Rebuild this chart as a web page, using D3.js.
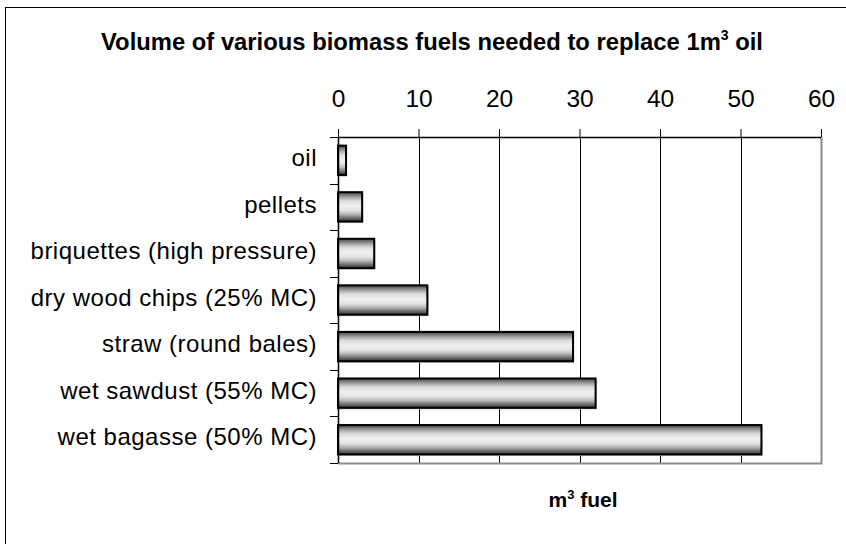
<!DOCTYPE html>
<html>
<head>
<meta charset="utf-8">
<script src="https://cdn.jsdelivr.net/npm/d3@7"></script>
<style>
  html, body { margin: 0; padding: 0; background: #fff; }
  svg { display: block; }
  text { font-family: "Liberation Sans", Arial, sans-serif; }
</style>
</head>
<body>
<svg id="chart" width="846" height="544"></svg>
<script>
const categories = [
  "oil",
  "pellets",
  "briquettes (high pressure)",
  "dry wood chips (25% MC)",
  "straw (round bales)",
  "wet sawdust (55% MC)",
  "wet bagasse (50% MC)"
];
const values = [1.0, 3.0, 4.5, 11.1, 29.2, 32.0, 52.6];
const xTicks = [0, 10, 20, 30, 40, 50, 60];

const svg = d3.select("#chart");
const W = 846, H = 544;
const plot = { left: 338, right: 821, top: 137, bottom: 463 };

// outer chart border
svg.append("rect")
  .attr("x", 5.5).attr("y", 7.5)
  .attr("width", W + 10).attr("height", H + 10)
  .attr("fill", "none").attr("stroke", "#000").attr("stroke-width", 1);

// gradient
const defs = svg.append("defs");
const grad = defs.append("linearGradient")
  .attr("id", "barGrad").attr("x1", 0).attr("y1", 0).attr("x2", 0).attr("y2", 1);
[
  [0.00, "#404040"], [0.08, "#707070"], [0.18, "#a8a8a8"], [0.30, "#dcdcdc"],
  [0.45, "#f0f0f0"], [0.62, "#e4e4e4"], [0.75, "#b8b8b8"], [0.86, "#7a7a7a"],
  [1.00, "#303030"]
].forEach(([o, c]) => grad.append("stop").attr("offset", o).attr("stop-color", c));

const x = d3.scaleLinear().domain([0, 60]).range([plot.left, plot.right]);
const y = d3.scaleBand().domain(categories).range([plot.top, plot.bottom]).paddingInner(0.37).paddingOuter(0.185);
const yb = d3.scaleBand().domain(categories).range([plot.top, plot.bottom]);

// gridlines
svg.append("g").selectAll("line").data(xTicks.slice(1, -1)).join("line")
  .attr("x1", d => Math.round(x(d)) + 0.5).attr("x2", d => Math.round(x(d)) + 0.5)
  .attr("y1", plot.top).attr("y2", plot.bottom)
  .attr("stroke", "#000").attr("stroke-width", 1);

// right & bottom plot border (gray)
svg.append("path")
  .attr("d", `M${plot.left},${plot.bottom + 0.5}H${plot.right + 0.5}V${plot.top}`)
  .attr("fill", "none").attr("stroke", "#8c8c8c").attr("stroke-width", 2);

// bars shadow
svg.append("g").selectAll("rect").data(values).join("rect")
  .attr("x", plot.left + 1)
  .attr("y", (d, i) => y(categories[i]) + 1.5)
  .attr("width", d => x(d) - plot.left)
  .attr("height", y.bandwidth())
  .attr("fill", "#b0b0b0");

// bars
svg.append("g").selectAll("rect").data(values).join("rect")
  .attr("x", plot.left)
  .attr("y", (d, i) => y(categories[i]))
  .attr("width", d => x(d) - plot.left)
  .attr("height", y.bandwidth())
  .attr("fill", "url(#barGrad)")
  .attr("stroke", "#000").attr("stroke-width", 2);

// top axis
const xAxis = d3.axisTop(x).tickValues(xTicks).tickSize(8).tickPadding(22).tickFormat(d3.format("d"));
const gx = svg.append("g").attr("transform", `translate(0,${plot.top})`).call(xAxis);
gx.select(".domain").attr("d", `M${plot.left},0.5H${plot.right}`).attr("stroke", "#000").attr("stroke-width", 1.5);
gx.selectAll(".tick line").attr("stroke", "#000");
gx.selectAll(".tick text").attr("font-size", 24.5).attr("fill", "#000")
  .style("font-family", "'Liberation Sans', Arial, sans-serif");

// left axis
const yAxis = d3.axisLeft(yb).tickSize(0).tickPadding(21);
const gy = svg.append("g").attr("transform", `translate(${plot.left},0)`).call(yAxis);
gy.select(".domain").attr("d", `M0.5,${plot.top}V${plot.bottom}`).attr("stroke", "#000").attr("stroke-width", 1.5);
gy.selectAll(".tick text").attr("font-size", 24).attr("fill", "#000")
  .attr("dy", "0.24em")
  .style("letter-spacing", "0.5px")
  .style("font-family", "'Liberation Sans', Arial, sans-serif");
// category boundary ticks
const bounds = categories.map(c => yb(c)).concat([plot.bottom]);
svg.append("g").selectAll("line").data(bounds).join("line")
  .attr("x1", plot.left - 8).attr("x2", plot.left)
  .attr("y1", d => Math.round(d) + 0.5).attr("y2", d => Math.round(d) + 0.5)
  .attr("stroke", "#000").attr("stroke-width", 1);

// title
const title = svg.append("text")
  .attr("x", 432).attr("y", 50)
  .attr("text-anchor", "middle")
  .attr("font-size", 23.8).attr("font-weight", "bold").attr("fill", "#000");
title.append("tspan").text("Volume of various biomass fuels needed to replace 1m");
title.append("tspan").attr("dy", -10).attr("font-size", 14).text("3");
title.append("tspan").attr("dy", 10).text(" oil");

// x-axis label
const xl = svg.append("text")
  .attr("x", 583).attr("y", 507)
  .attr("text-anchor", "middle")
  .attr("font-size", 21).attr("font-weight", "bold").attr("fill", "#000");
xl.append("tspan").text("m");
xl.append("tspan").attr("dy", -8).attr("font-size", 13).text("3");
xl.append("tspan").attr("dy", 8).text(" fuel");
</script>
</body>
</html>
